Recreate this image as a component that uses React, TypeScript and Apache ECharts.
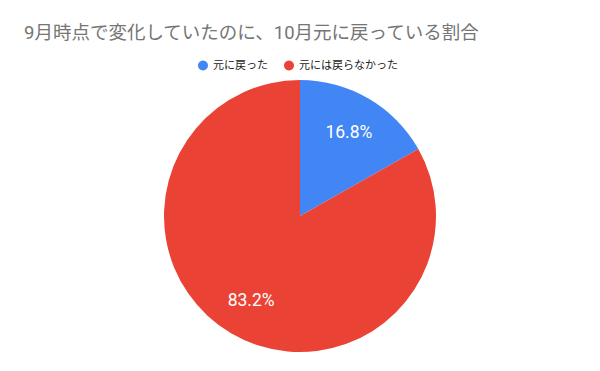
import React, { useEffect, useRef } from "react";
import * as echarts from "echarts";

const titleText = "9月時点で変化していたのに、10月元に戻っている割合";
const categories = ["元に戻った", "元には戻らなかった"];
const values = [16.8, 83.2];
const colors = ["#4285f4", "#ea4335"];

export default function App() {
  const ref = useRef<HTMLDivElement>(null);
  useEffect(() => {
    if (!ref.current) return;
    const chart = echarts.init(ref.current, null, { renderer: "svg" });
    const data = categories.map((name, i) => ({
      name,
      value: values[i],
      itemStyle: { color: colors[i] },
    }));
    chart.setOption({
      animation: false,
      backgroundColor: "#ffffff",
      title: {
        text: titleText,
        left: 19,
        top: 19,
        textStyle: {
          color: "#757575",
          fontSize: 18.5,
          fontWeight: "normal",
          fontFamily: "Roboto, 'Noto Sans CJK JP', sans-serif",
        },
      },
      legend: {
        top: 55,
        left: 193,
        icon: "circle",
        itemWidth: 10,
        itemHeight: 10,
        itemGap: 16,
        textStyle: {
          color: "#222222",
          fontSize: 11,
          fontFamily: "Roboto, 'Noto Sans CJK JP', sans-serif",
        },
        data: categories,
      },
      series: [
        {
          type: "pie",
          center: [300, 216],
          radius: [0, 136],
          startAngle: 90,
          clockwise: true,
          silent: true,
          label: { show: false },
          labelLine: { show: false },
          itemStyle: { borderWidth: 0 },
          data,
        },
        {
          type: "pie",
          center: [300, 216],
          radius: [52, 136],
          startAngle: 90,
          clockwise: true,
          silent: true,
          legendHoverLink: false,
          itemStyle: { color: "transparent", borderWidth: 0 },
          label: {
            show: true,
            position: "inside",
            formatter: (p: any) => p.value.toFixed(1) + "%",
            color: "#ffffff",
            fontSize: 17.5,
            fontFamily: "Roboto, Arial, sans-serif",
          },
          labelLine: { show: false },
          data: categories.map((name, i) => ({ name: name + " ", value: values[i] })),
        },
      ],
    });
    return () => chart.dispose();
  }, []);
  return (
    <div
      ref={ref}
      style={{ position: "fixed", left: 0, top: 0, width: 600, height: 371 }}
    />
  );
}
